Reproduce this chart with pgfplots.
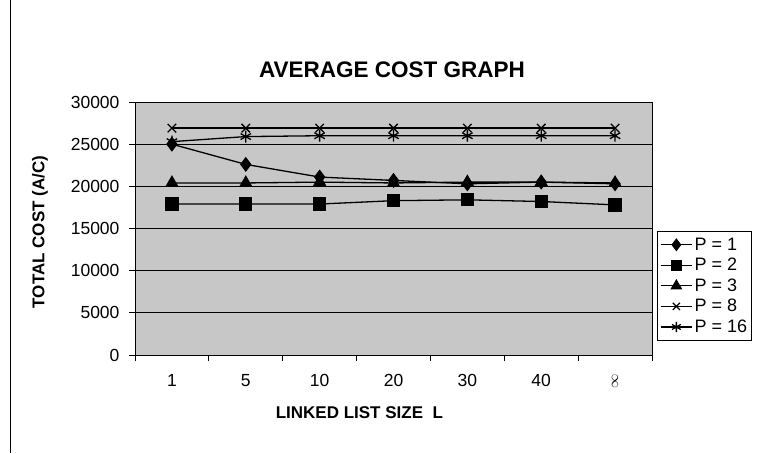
\documentclass[border=0pt]{standalone}
\usepackage{pgfplots}
\pgfplotsset{compat=1.18}
\usepackage{fontspec}
\setmainfont{Liberation Sans}
\begin{document}
\begin{tikzpicture}[x=1pt,y=1pt]
\useasboundingbox (0,0) rectangle (773,453);
\draw[line width=1pt] (10,0) -- (10,453);
\node[font=\bfseries\fontsize{22.5}{26}\selectfont] at (392,383) {AVERAGE COST GRAPH};
\begin{axis}[
  at={(135pt,98pt)}, anchor=south west,
  scale only axis, width=517pt, height=253pt,
  xmin=-0.5, xmax=6.5, ymin=0, ymax=30000,
  xtick={0,...,6},
  xticklabels={1,5,10,20,30,40,\rotatebox{90}{\fontsize{15}{16}\selectfont$\mathbf{\infty}$}},
  minor xtick={-0.5,0.5,...,6.5},
  ytick={0,5000,...,30000},
  minor ytick={0,5000,...,30000},
  xtick pos=left, ytick pos=left,
  scaled y ticks=false,
  /pgf/number format/assume math mode=true,
  yticklabel style={/pgf/number format/1000 sep={}, xshift=-6pt},
  tick align=outside,
  major tick length=6pt, minor tick length=6pt,
  major tick style={draw=none},
  minor tick style={draw=black, line width=0.8pt},
  axis line style={black, line width=1pt},
  ymajorgrids, major grid style={black, line width=0.8pt},
  axis background/.style={fill=black!22},
  ticklabel style={font=\fontsize{17.5}{20}\selectfont},
  xticklabel style={yshift=-10pt},
  xlabel={\textbf{LINKED LIST SIZE~~L}},
  ylabel={\textbf{TOTAL COST (A/C)}},
  label style={font=\fontsize{17}{20}\selectfont},
  xlabel style={at={(axis description cs:0.434,-0.229)}, anchor=center},
  ylabel style={at={(axis description cs:-0.184,0.486)}, anchor=center},
  legend style={at={(1.01,0.273)}, anchor=west, draw=black, line width=0.8pt,
    font=\fontsize{18}{21}\selectfont, row sep=2.5pt, inner xsep=2.5pt, inner ysep=4pt},
  legend cell align=left,
  legend image code/.code={\draw[#1,mark repeat=2,mark phase=2,mark options={scale=0.85}] plot coordinates {(0cm,0cm) (0.55cm,0cm) (1.1cm,0cm)};},
  every axis plot/.append style={black, line width=1.3pt},
]
\addplot[mark=diamond*, mark size=6.5pt] coordinates {(0,25000) (1,22600) (2,21100) (3,20700) (4,20300) (5,20500) (6,20300)};
\addplot[mark=square*, mark size=6pt] coordinates {(0,17900) (1,17900) (2,17900) (3,18300) (4,18400) (5,18200) (6,17800)};
\addplot[mark=triangle*, mark size=6.5pt] coordinates {(0,20400) (1,20400) (2,20500) (3,20400) (4,20500) (5,20500) (6,20400)};
\addplot[mark=x, mark size=6pt] coordinates {(0,26900) (1,26900) (2,26900) (3,26900) (4,26900) (5,26900) (6,26900)};
\addplot[mark=asterisk, mark size=6pt] coordinates {(0,25300) (1,25900) (2,26000) (3,26000) (4,26000) (5,26000) (6,26000)};
\legend{P = 1, P = 2, P = 3, P = 8, P = 16}
\end{axis}
\end{tikzpicture}
\end{document}
